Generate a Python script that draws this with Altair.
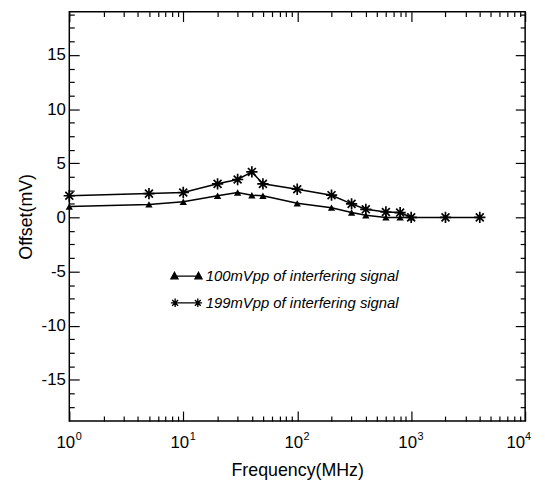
import altair as alt
import pandas as pd

# ---------------- data ----------------
series_names = ["100mVpp of interfering signal", "199mVpp of interfering signal"]
freq_100 = [1, 5, 10, 20, 30, 40, 50, 100, 200, 300, 400, 600, 800, 1000]
offset_100 = [1.0, 1.2, 1.45, 2.0, 2.3, 2.05, 2.0, 1.3, 0.9, 0.45, 0.2, 0.0, 0.0, 0.0]
freq_199 = [1, 5, 10, 20, 30, 40, 50, 100, 200, 300, 400, 600, 800, 1000, 2000, 4000]
offset_199 = [2.0, 2.2, 2.3, 3.1, 3.5, 4.2, 3.1, 2.6, 2.05, 1.25, 0.75, 0.5, 0.45, 0.0, 0.0, 0.0]

x_major = [1, 10, 100, 1000, 10000]
x_minor = [2, 3, 4, 5, 6, 7, 8, 9,
           20, 30, 40, 50, 60, 70, 80, 90,
           200, 300, 400, 500, 600, 700, 800, 900,
           2000, 3000, 4000, 5000, 6000, 7000, 8000, 9000]
y_major = [-15, -10, -5, 0, 5, 10, 15]
y_minor = [-17.5, -16.25, -13.75, -12.5, -11.25, -8.75, -7.5, -6.25,
           -3.75, -2.5, -1.25, 1.25, 2.5, 3.75, 6.25, 7.5, 8.75,
           11.25, 12.5, 13.75, 16.25, 17.5, 18.75]

df = pd.DataFrame({
    "freq": freq_100 + freq_199,
    "offset": offset_100 + offset_199,
    "series": [series_names[0]] * len(freq_100) + [series_names[1]] * len(freq_199),
})

FONT = "Liberation Sans"
AST = "M0,-1L0,1M-1,0L1,0M-0.7,-0.7L0.7,0.7M-0.7,0.7L0.7,-0.7"


def tri(cx):
    return f"M{cx-0.26:.2f},0.2L{cx+0.26:.2f},0.2L{cx:.2f},-0.28Z"


def star(cx, r=0.32):
    d = 0.7 * r
    return (f"M{cx:.2f},{-r}L{cx:.2f},{r}M{cx-r:.2f},0L{cx+r:.2f},0"
            f"M{cx-d:.2f},{-d:.2f}L{cx+d:.2f},{d:.2f}M{cx-d:.2f},{d:.2f}L{cx+d:.2f},{-d:.2f}")


LEG1 = "M-0.9,0L0.9,0" + tri(-0.9) + tri(0.9)
LEG2 = "M-0.85,0L0.85,0" + star(-0.85) + star(0.85)

xs = alt.Scale(type="log", domain=[1, 10000], nice=False)
ys = alt.Scale(domain=[-18.8, 19.0], nice=False, zero=False)

common = dict(grid=False, domain=False, tickColor="black", tickWidth=1.2,
              labelColor="black", labelFont=FONT, titleFont=FONT,
              titleColor="black", titleFontWeight="normal", labelFlush=False)

x_main = alt.Axis(orient="bottom", values=x_major, tickSize=10, offset=-10,
                  labelExpr="'10'", labelFontSize=17, labelPadding=14,
                  labelOverlap=False,
                  labelOffset={"condition": {"test": "datum.value >= 10000", "value": -10}, "value": -4},
                  title="Frequency(MHz)", titleFontSize=18, titlePadding=11, **common)
x_exp = alt.Axis(orient="bottom", values=x_major, ticks=False, tickSize=0, offset=-4,
                 labelExpr="'' + round(log(datum.value) / LN10)", labelFontSize=11,
                 labelPadding=14, labelOverlap=False,
                 labelOffset={"condition": {"test": "datum.value >= 10000", "value": 2.5}, "value": 9},
                 title=None, **common)
x_min = alt.Axis(orient="bottom", values=x_minor, tickSize=5, offset=-5, labels=False,
                 title=None, **common)
x_top = alt.Axis(orient="top", values=x_major, tickSize=10, offset=-10, labels=False,
                 title=None, **common)
x_top_min = alt.Axis(orient="top", values=x_minor, tickSize=5, offset=-5, labels=False,
                     title=None, **common)

y_main = alt.Axis(orient="left", values=y_major, tickSize=10, offset=-10,
                  labelExpr="'' + datum.value", labelFontSize=17, labelPadding=4,
                  title="Offset(mV)", titleFontSize=18, titlePadding=6, **common)
y_min = alt.Axis(orient="left", values=y_minor, tickSize=5, offset=-5, labels=False,
                 title=None, **common)
y_right = alt.Axis(orient="right", values=y_major, tickSize=10, offset=-10, labels=False,
                   title=None, **common)
y_right_min = alt.Axis(orient="right", values=y_minor, tickSize=5, offset=-5, labels=False,
                       title=None, **common)

base = alt.Chart(df)

lines = base.mark_line(color="black", strokeWidth=1.5).encode(
    x=alt.X("freq:Q", scale=xs, axis=x_main),
    y=alt.Y("offset:Q", scale=ys, axis=y_main),
    detail="series:N",
)

tris = base.transform_filter(alt.datum.series == series_names[0]).mark_point(
    shape="triangle-up", filled=True, color="black", size=55, opacity=1
).encode(
    x=alt.X("freq:Q", scale=xs, axis=None),
    y=alt.Y("offset:Q", scale=ys, axis=None),
)

stars = base.transform_filter(alt.datum.series == series_names[1]).mark_point(
    shape=AST, filled=False, color="black", strokeWidth=1.7, size=130, opacity=1
).encode(
    x=alt.X("freq:Q", scale=xs, axis=None),
    y=alt.Y("offset:Q", scale=ys, axis=None),
)

ghost1 = base.mark_point(opacity=0).encode(
    x=alt.X("freq:Q", scale=xs, axis=x_min),
    y=alt.Y("offset:Q", scale=ys, axis=y_min),
)
ghost2 = base.mark_point(opacity=0).encode(
    x=alt.X("freq:Q", scale=xs, axis=x_top),
    y=alt.Y("offset:Q", scale=ys, axis=y_right),
)
ghost3 = base.mark_point(opacity=0).encode(
    x=alt.X("freq:Q", scale=xs, axis=x_top_min),
    y=alt.Y("offset:Q", scale=ys, axis=y_right_min),
)

legend_layer = base.transform_filter("false").mark_point(
    filled=True, color="black", stroke="black", strokeWidth=1.4, opacity=1
).encode(
    x=alt.X("freq:Q", scale=xs, axis=x_exp),
    y=alt.Y("offset:Q", scale=ys, axis=None),
    shape=alt.Shape(
        "series:N",
        scale=alt.Scale(domain=series_names, range=[LEG1, LEG2]),
        legend=alt.Legend(
            title=None, orient="none", legendX=104, legendY=253,
            symbolSize=729, symbolStrokeWidth=1.4, symbolOpacity=1,
            labelFont=FONT, labelFontStyle="italic", labelFontSize=15,
            labelColor="black", labelLimit=400, rowPadding=4,
            labelOffset=5, padding=0,
        ),
    ),
)

chart = alt.layer(
    lines, tris, stars, ghost1, ghost2, ghost3, legend_layer
).resolve_axis(
    x="independent", y="independent"
).properties(
    width=461, height=414,
    autosize=alt.AutoSizeParams(type="none"),
    padding={"left": 62, "top": 1, "right": 12, "bottom": 60},
).configure_view(
    stroke="black", strokeWidth=1.5
)

chart.save("out.html", embed_options={"renderer": "svg", "actions": False})
